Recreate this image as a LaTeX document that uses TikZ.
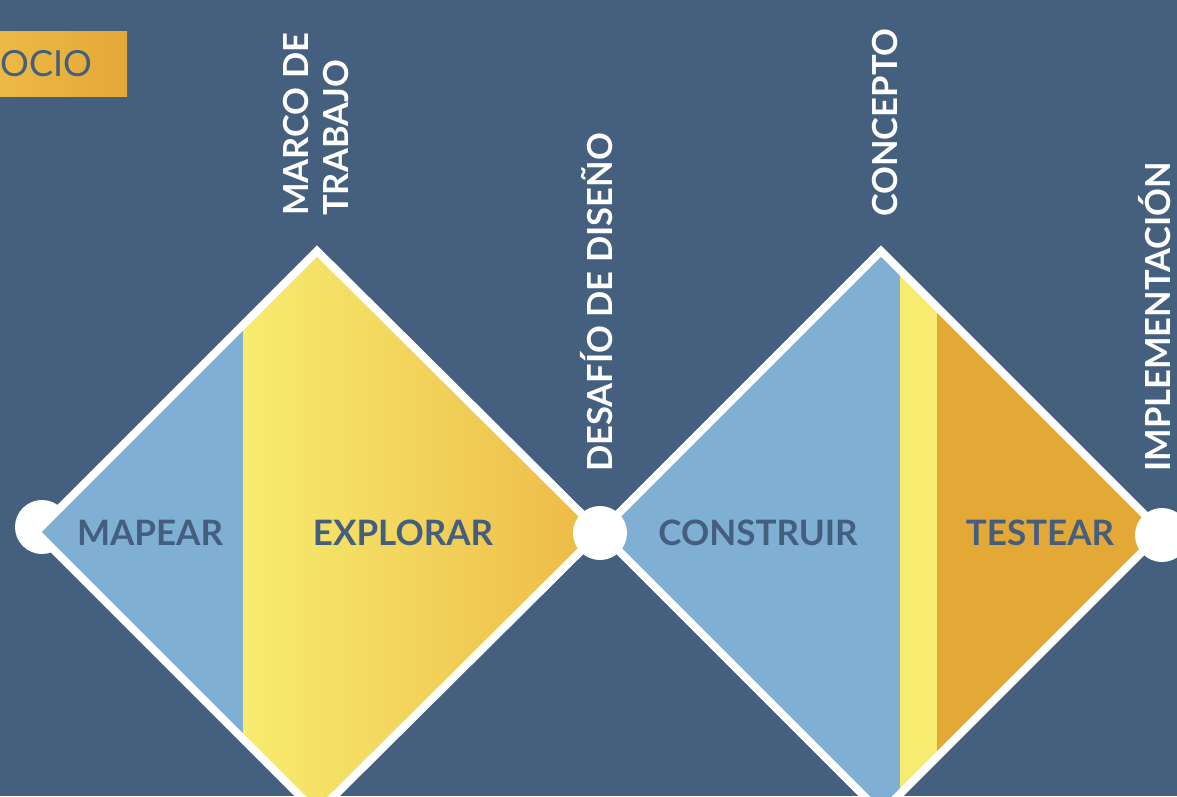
\documentclass[tikz,border=0pt]{standalone}
\usepackage{fontspec}
\setmainfont{Lato}

\definecolor{bgblue}{HTML}{455F7F}
\definecolor{mapblue}{HTML}{7FAFD2}
\definecolor{lightyellow}{HTML}{F7EC70}
\definecolor{midorange}{HTML}{EDB945}
\definecolor{deeporange}{HTML}{E4A836}
\definecolor{labelblue}{HTML}{445E80}

\tikzset{
    phase/.style={font=\bfseries\fontsize{35}{40}\selectfont, text=labelblue, inner sep=0pt, anchor=base},
    milestone/.style={font=\bfseries\fontsize{34.5}{40}\selectfont, text=white, rotate=90, inner sep=0pt, anchor=base west},
    dot/.style={circle, fill=white, minimum size=54pt, inner sep=0pt},
    rim/.style={draw=white, line width=8pt, line join=miter},
}

\begin{document}
\begin{tikzpicture}[x=1pt, y=-1pt]
        % Background
        \useasboundingbox (0,0) rectangle (1177,796);
        \clip (0,0) rectangle (1177,796);
        \fill[bgblue] (0,0) rectangle (1177,796);

        % Diamond corners
        \coordinate (l1) at (36,532);   \coordinate (t1) at (317,251);
        \coordinate (r1) at (600,532);  \coordinate (b1) at (317,813);
        \coordinate (l2) at (600,532);  \coordinate (t2) at (881,251);
        \coordinate (r2) at (1162,532); \coordinate (b2) at (881,813);

        % Start dot sits under the first diamond
        \node[dot] (start) at (42,527) {};

        % Fill the first diamond
        \begin{scope}
            \clip (l1) -- (t1) -- (r1) -- (b1) -- cycle;
            \fill[mapblue] (0,0) rectangle (243,820);
            \shade[left color=lightyellow, right color=midorange] (243,0) rectangle (600,820);
        \end{scope}

        % Fill the second diamond
        \begin{scope}
            \clip (l2) -- (t2) -- (r2) -- (b2) -- cycle;
            \fill[mapblue] (600,0) rectangle (900,820);
            \fill[lightyellow] (900,0) rectangle (937,820);
            \fill[deeporange] (937,0) rectangle (1170,820);
        \end{scope}

        % White outlines
        \draw[rim] (l1) -- (t1) -- (r1) -- (b1) -- cycle;
        \draw[rim] (l2) -- (t2) -- (r2) -- (b2) -- cycle;

        % Dots on the joints
        \foreach \x/\y/\name in {600/533/middle, 1162/535/finish} {
            \node[dot] (\name) at (\x,\y) {};
        }

        % Phase names inside the diamonds
        \foreach \x/\name/\label in {150/mapear/MAPEAR, 403/explorar/EXPLORAR, 758/construir/CONSTRUIR, 1040/testear/TESTEAR} {
            \node[phase] (\name) at (\x,545) {\label};
        }

        % Milestones written upwards
        \foreach \x/\y/\name/\label in {308/216/marco/MARCO DE, 348/216/trabajo/TRABAJO, 612/472/desafio/DESAFÍO DE DISEÑO, 897/217/concepto/CONCEPTO, 1170/472/implementacion/IMPLEMENTACIÓN} {
            \node[milestone] (\name) at (\x,\y) {\label};
        }

        % Tag at the top left
        \node[left color=midorange, right color=deeporange, minimum height=65pt, text width=127pt, inner sep=0pt,
              align=left, text=labelblue, font=\fontsize{36}{40}\selectfont, anchor=north west] (inicio) at (0,31) {OCIO};
\end{tikzpicture}
\end{document}
